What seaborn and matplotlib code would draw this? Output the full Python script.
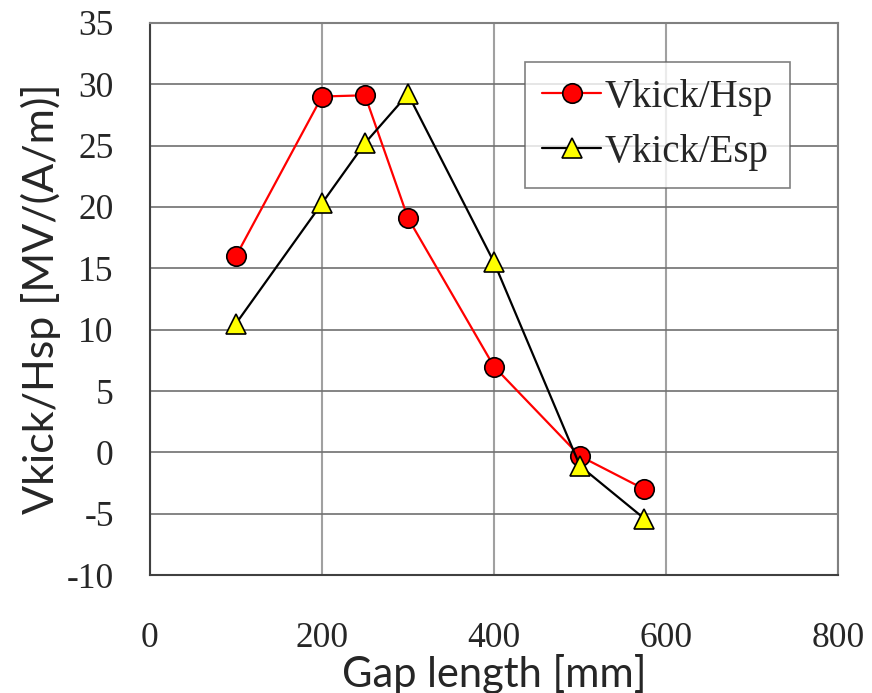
import matplotlib
matplotlib.use("Agg")
import matplotlib.pyplot as plt
import seaborn as sns
import pandas as pd

# valores
gap = [100, 200, 250, 300, 400, 500, 575]
vkick_hsp = [16.0, 29.0, 29.1, 19.1, 7.0, -0.3, -3.0]
vkick_esp = [10.5, 20.3, 25.2, 29.2, 15.5, -1.1, -5.4]

df = pd.DataFrame({"gap": gap, "hsp": vkick_hsp, "esp": vkick_esp})

sns.set_theme(style="white")
serif = ["Liberation Serif", "DejaVu Serif"]
sans = ["Lato", "DejaVu Sans"]

fig = plt.figure(figsize=(8.72, 6.93), dpi=100)
ax = fig.add_axes([0.172, 0.170, 0.789, 0.797])

sns.lineplot(x="gap", y="hsp", data=df, ax=ax, color="red", linewidth=1.6,
             marker="o", markersize=14, markerfacecolor="red",
             markeredgecolor="black", markeredgewidth=1.2,
             label="Vkick/Hsp", zorder=3)
sns.lineplot(x="gap", y="esp", data=df, ax=ax, color="black", linewidth=1.6,
             marker="^", markersize=15, markerfacecolor="yellow",
             markeredgecolor="black", markeredgewidth=1.2,
             label="Vkick/Esp", zorder=4)

ax.set_xlim(0, 800)
ax.set_ylim(-10, 35)
ax.set_xticks([0, 200, 400, 600, 800])
ax.set_yticks(range(-10, 36, 5))
ax.set_yticklabels([str(v) for v in range(-10, 36, 5)])
ax.grid(axis="y", color="#707070", linewidth=1.2)
ax.grid(axis="x", color="#a0a0a0", linewidth=1.5)
ax.set_axisbelow(True)

ax.tick_params(axis="x", length=0, pad=34)
ax.tick_params(axis="y", length=0, pad=26)
for lab in ax.get_xticklabels() + ax.get_yticklabels():
    lab.set_family(serif)
    lab.set_fontsize(25.5)

for side in ["left", "bottom"]:
    ax.spines[side].set_color("#404040")
    ax.spines[side].set_linewidth(1.5)
for side in ["top", "right"]:
    ax.spines[side].set_color("#808080")
    ax.spines[side].set_linewidth(1.5)

ax.set_xlabel("Gap length [mm]", fontsize=30, family=sans)
ax.xaxis.set_label_coords(0.5, -0.142)
ax.xaxis.label.set_va("top")
ax.set_ylabel("Vkick/Hsp [MV/(A/m)]", fontsize=31, family=sans)
ax.yaxis.set_label_coords(-0.13, 0.5)

leg = ax.legend(loc="upper left", bbox_to_anchor=(0.545, 0.93),
                prop={"family": serif, "size": 28}, frameon=True,
                fancybox=False, edgecolor="#606060", handlelength=1.5,
                handletextpad=0.1, borderpad=0.45, labelspacing=0.45,
                borderaxespad=0)
leg.get_frame().set_linewidth(1.2)

fig.savefig("out.png", dpi=100)
